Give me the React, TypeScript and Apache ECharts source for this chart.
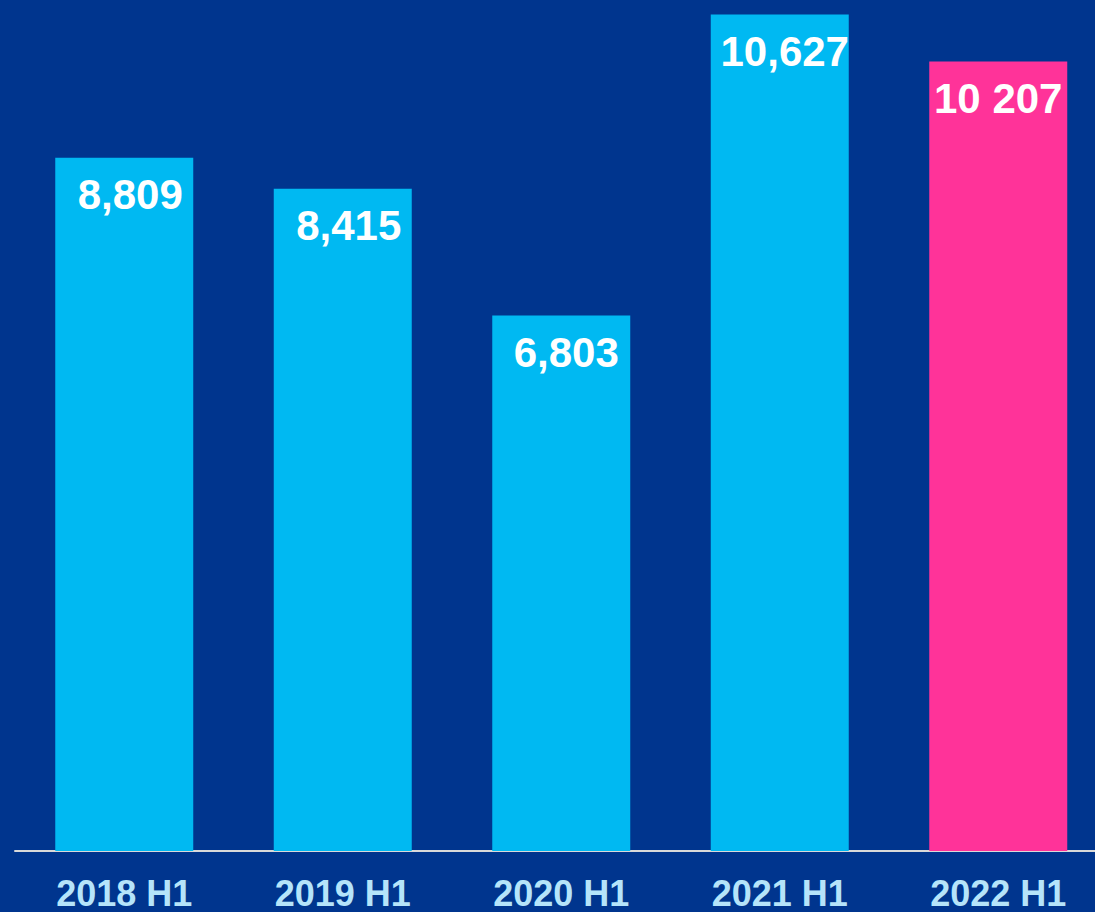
import React, { useEffect, useRef } from "react";
import * as echarts from "echarts";

const categories = ["2018 H1", "2019 H1", "2020 H1", "2021 H1", "2022 H1"];
const values = [8809, 8415, 6803, 10627, 10030];
const valueLabels = ["8,809", "8,415", "6,803", "10,627", "10 207"];
const barColors = ["#00B9F2", "#00B9F2", "#00B9F2", "#00B9F2", "#FF3399"];
const labelOffsets = [[6, 0], [6, 0], [5, 0], [5, 0], [0, 0]];

export default function App() {
  const ref = useRef<HTMLDivElement>(null);
  useEffect(() => {
    if (!ref.current) return;
    const chart = echarts.init(ref.current, null, { renderer: "svg" });
    chart.setOption({
      animation: false,
      backgroundColor: "#00358E",
      grid: { left: 15, top: 1, bottom: 61, right: 2.5 },
      xAxis: {
        type: "category",
        data: categories,
        axisLine: { show: true, lineStyle: { color: "#D9D9D9", width: 2 } },
        axisTick: { show: false },
        axisLabel: {
          color: "#B5E4FA",
          fontFamily: "Liberation Sans, Arial, sans-serif",
          fontWeight: "bold",
          fontSize: 36,
          margin: 24,
        },
      },
      yAxis: {
        type: "value",
        min: 0,
        max: 10800,
        show: false,
        splitLine: { show: false },
      },
      series: [
        {
          type: "bar",
          barWidth: 138,
          data: values.map((v, i) => ({
            value: v,
            itemStyle: { color: barColors[i] },
            label: {
              show: true,
              position: "insideTop",
              distance: 16,
              offset: labelOffsets[i],
              formatter: valueLabels[i],
              color: "#FFFFFF",
              fontFamily: "Liberation Sans, Arial, sans-serif",
              fontWeight: "bold",
              fontSize: 42,
            },
          })),
        },
      ],
    });
    return () => chart.dispose();
  }, []);
  return (
    <div style={{ position: "fixed", left: 0, top: 0, width: 1095, height: 912, overflow: "hidden", background: "#00358E" }}>
      <div ref={ref} style={{ width: 1110, height: 912 }} />
    </div>
  );
}
